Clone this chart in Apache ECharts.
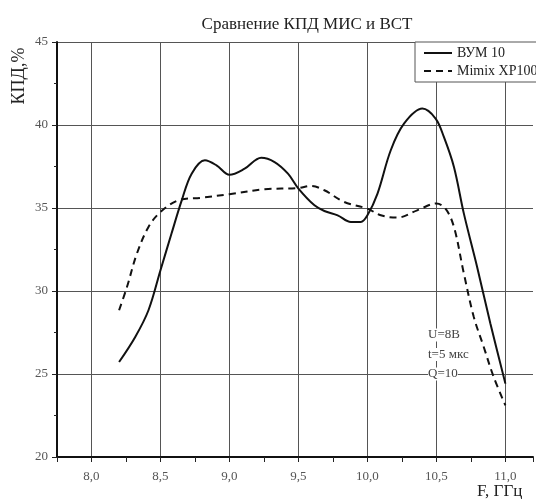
<!DOCTYPE html>
<html>
<head>
<meta charset="utf-8">
<script src="https://cdn.jsdelivr.net/npm/echarts@6/dist/echarts.min.js"></script>
<style>
html, body { margin: 0; padding: 0; background: #fff; }
#chart { width: 536px; height: 499px; }
</style>
</head>
<body>
<div id="chart"></div>
<script>
const SERIES_NAMES = ['ВУМ 10', 'Mimix XP1006'];

const FREQ_VUM = [8.2, 8.317, 8.413, 8.5, 8.58, 8.654, 8.726, 8.822, 8.906, 9.0, 9.11, 9.23, 9.327, 9.424, 9.5,
    9.616, 9.688, 9.784, 9.88, 9.952, 10.0, 10.073, 10.169, 10.265, 10.398, 10.494, 10.554, 10.627, 10.699,
    10.795, 10.891, 11.0];
const KPD_VUM = [25.72, 27.23, 28.84, 31.25, 33.46, 35.46, 37.07, 37.87, 37.57, 37.0, 37.37, 38.03, 37.77, 37.07, 36.17,
    35.16, 34.82, 34.56, 34.16, 34.16, 34.56, 35.87, 38.48, 40.08, 40.99, 40.39, 39.28, 37.47, 34.66,
    31.45, 28.04, 24.42];

const FREQ_MIMIX = [8.2, 8.257, 8.329, 8.413, 8.5, 8.63, 8.798, 9.0, 9.256, 9.5, 9.588, 9.688, 9.832, 10.0,
    10.097, 10.217, 10.361, 10.5, 10.566, 10.627, 10.699, 10.771, 10.843, 10.915, 11.0];
const KPD_MIMIX = [28.84, 30.24, 32.25, 33.86, 34.76, 35.46, 35.62, 35.83, 36.13, 36.2, 36.33, 36.07, 35.36, 34.96,
    34.56, 34.42, 34.86, 35.27, 34.96, 33.86, 31.05, 28.43, 26.63, 24.82, 23.11];

const NOTES = ['U=8В', 't=5 мкс', 'Q=10'];

const FONT = '"Liberation Serif", "DejaVu Serif", serif';

function zip(xs, ys) {
    return xs.map((x, i) => [x, ys[i]]);
}

const chart = echarts.init(document.getElementById('chart'));

const option = {
    animation: false,
    backgroundColor: '#fff',
    title: {
        text: 'Сравнение КПД МИС и ВСТ',
        left: 302,
        textAlign: 'center',
        top: 11,
        textStyle: { fontFamily: FONT, fontSize: 17, fontWeight: 'normal', color: '#222' }
    },
    legend: {
        left: 415,
        top: 42,
        orient: 'vertical',
        itemWidth: 28,
        itemHeight: 10,
        itemGap: 4,
        padding: [4, 40, 4, 8],
        borderColor: '#555',
        borderWidth: 1,
        backgroundColor: '#fff',
        itemStyle: { opacity: 0 },
        textStyle: { fontFamily: FONT, fontSize: 14, color: '#222' },
        data: SERIES_NAMES
    },
    grid: {
        left: 57,
        right: 0,
        top: 42,
        bottom: 42,
        containLabel: false
    },
    xAxis: {
        type: 'value',
        min: 7.75,
        max: 11.2,
        interval: 0.25,
        axisLine: { show: true, lineStyle: { color: '#111', width: 2 } },
        axisTick: { show: true, length: 5, lineStyle: { color: '#222' } },
        axisLabel: {
            fontFamily: FONT,
            fontSize: 13,
            color: '#555',
            margin: 13,
            formatter: function(value) {
                if (Math.abs(value * 2 - Math.round(value * 2)) > 1e-6) return '';
                return value.toFixed(1).replace('.', ',');
            }
        },
        splitLine: {
            show: true,
            lineStyle: { color: ['rgba(0,0,0,0)', '#555'], width: 1 }
        }
    },
    yAxis: {
        type: 'value',
        min: 20,
        max: 45,
        interval: 5,
        axisLine: { show: true, lineStyle: { color: '#111', width: 2 } },
        axisTick: { show: true, length: 5, lineStyle: { color: '#222' } },
        minorTick: { show: true, splitNumber: 2, length: 3, lineStyle: { color: '#222' } },
        axisLabel: { fontFamily: FONT, fontSize: 13, color: '#555', margin: 9 },
        splitLine: { show: true, lineStyle: { color: '#555', width: 1 } }
    },
    graphic: [
        {
            type: 'text',
            x: 19,
            y: 76,
            rotation: Math.PI / 2,
            style: {
                text: 'КПД,%',
                fontFamily: FONT,
                fontSize: 18,
                fill: '#222',
                textAlign: 'center',
                textVerticalAlign: 'middle'
            }
        },
        {
            type: 'text',
            x: 477,
            y: 492,
            style: {
                text: 'F, ГГц',
                fontFamily: FONT,
                fontSize: 17,
                fill: '#222',
                textAlign: 'left',
                textVerticalAlign: 'middle'
            }
        },
        ...NOTES.map((t, i) => ({
            type: 'text',
            x: 428,
            y: 335 + i * 19.5,
            z: 10,
            style: {
                text: t,
                fontFamily: FONT,
                fontSize: 13,
                fill: '#444',
                backgroundColor: '#fff',
                textVerticalAlign: 'middle'
            }
        }))
    ],
    series: [
        {
            name: SERIES_NAMES[0],
            type: 'line',
            data: zip(FREQ_VUM, KPD_VUM),
            smooth: 0.35,
            symbol: 'none',
            lineStyle: { color: '#111', width: 2 },
            itemStyle: { color: '#111' }
        },
        {
            name: SERIES_NAMES[1],
            type: 'line',
            data: zip(FREQ_MIMIX, KPD_MIMIX),
            smooth: 0.35,
            symbol: 'none',
            lineStyle: { color: '#111', width: 2, type: [7, 5] },
            itemStyle: { color: '#111' }
        }
    ]
};

chart.setOption(option);
</script>
</body>
</html>
